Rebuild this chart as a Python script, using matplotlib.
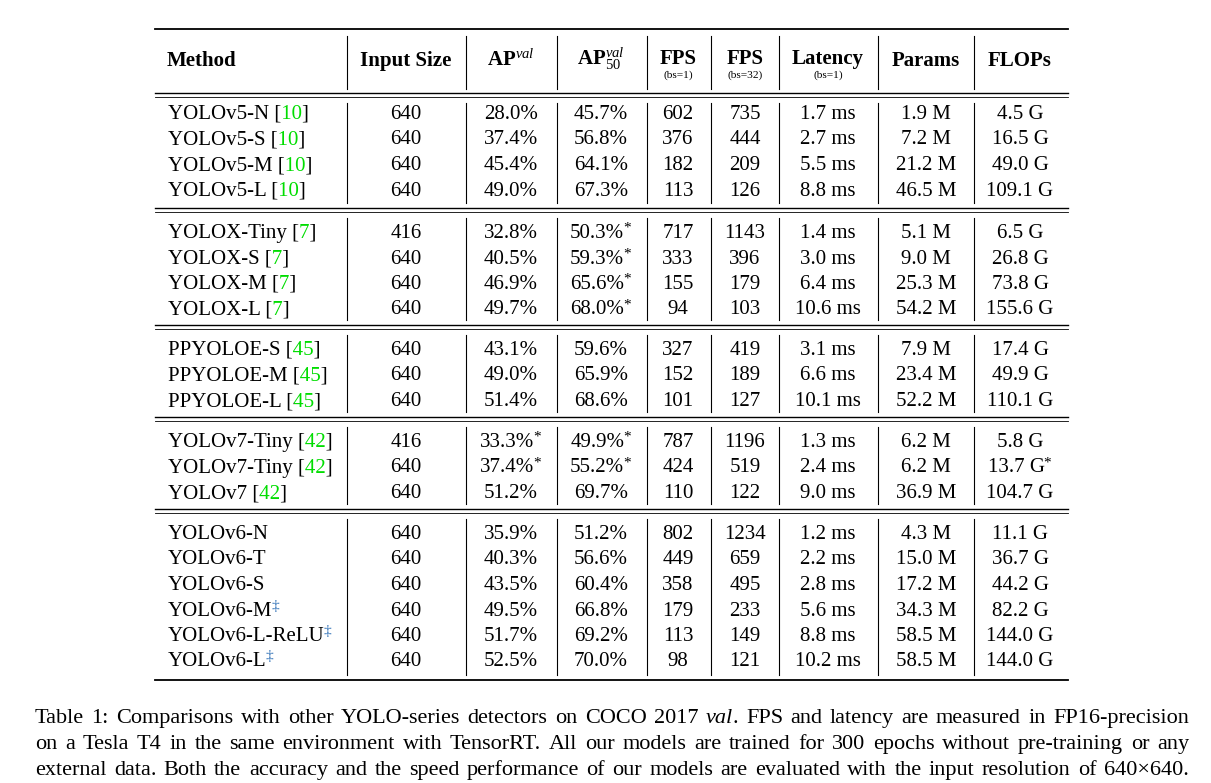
import matplotlib.pyplot as plt
import matplotlib as mpl
from matplotlib.patches import Rectangle

mpl.rcParams['font.family'] = ['Liberation Serif', 'DejaVu Serif']
mpl.rcParams['mathtext.fontset'] = 'custom'
mpl.rcParams['mathtext.rm'] = 'Liberation Serif'
mpl.rcParams['mathtext.it'] = 'Liberation Serif:italic'
mpl.rcParams['mathtext.bf'] = 'Liberation Serif:bold'

# ---- data ----
groups = [
    # (method, ref, mark)
    [('YOLOv5-N', '10', ''), ('YOLOv5-S', '10', ''), ('YOLOv5-M', '10', ''), ('YOLOv5-L', '10', '')],
    [('YOLOX-Tiny', '7', ''), ('YOLOX-S', '7', ''), ('YOLOX-M', '7', ''), ('YOLOX-L', '7', '')],
    [('PPYOLOE-S', '45', ''), ('PPYOLOE-M', '45', ''), ('PPYOLOE-L', '45', '')],
    [('YOLOv7-Tiny', '42', ''), ('YOLOv7-Tiny', '42', ''), ('YOLOv7', '42', '')],
    [('YOLOv6-N', '', ''), ('YOLOv6-T', '', ''), ('YOLOv6-S', '', ''), ('YOLOv6-M', '', '‡'),
     ('YOLOv6-L-ReLU', '', '‡'), ('YOLOv6-L', '', '‡')],
]
input_size = ['640', '640', '640', '640', '416', '640', '640', '640', '640', '640', '640',
              '416', '640', '640', '640', '640', '640', '640', '640', '640']
ap = ['28.0%', '37.4%', '45.4%', '49.0%', '32.8%', '40.5%', '46.9%', '49.7%',
      '43.1%', '49.0%', '51.4%', '33.3%*', '37.4%*', '51.2%',
      '35.9%', '40.3%', '43.5%', '49.5%', '51.7%', '52.5%']
ap50 = ['45.7%', '56.8%', '64.1%', '67.3%', '50.3%*', '59.3%*', '65.6%*', '68.0%*',
        '59.6%', '65.9%', '68.6%', '49.9%*', '55.2%*', '69.7%',
        '51.2%', '56.6%', '60.4%', '66.8%', '69.2%', '70.0%']
fps1 = ['602', '376', '182', '113', '717', '333', '155', '94', '327', '152', '101',
        '787', '424', '110', '802', '449', '358', '179', '113', '98']
fps32 = ['735', '444', '209', '126', '1143', '396', '179', '103', '419', '189', '127',
         '1196', '519', '122', '1234', '659', '495', '233', '149', '121']
latency = ['1.7 ms', '2.7 ms', '5.5 ms', '8.8 ms', '1.4 ms', '3.0 ms', '6.4 ms', '10.6 ms',
           '3.1 ms', '6.6 ms', '10.1 ms', '1.3 ms', '2.4 ms', '9.0 ms',
           '1.2 ms', '2.2 ms', '2.8 ms', '5.6 ms', '8.8 ms', '10.2 ms']
params = ['1.9 M', '7.2 M', '21.2 M', '46.5 M', '5.1 M', '9.0 M', '25.3 M', '54.2 M',
          '7.9 M', '23.4 M', '52.2 M', '6.2 M', '6.2 M', '36.9 M',
          '4.3 M', '15.0 M', '17.2 M', '34.3 M', '58.5 M', '58.5 M']
flops = ['4.5 G', '16.5 G', '49.0 G', '109.1 G', '6.5 G', '26.8 G', '73.8 G', '155.6 G',
         '17.4 G', '49.9 G', '110.1 G', '5.8 G', '13.7 G*', '104.7 G',
         '11.1 G', '36.7 G', '44.2 G', '82.2 G', '144.0 G', '144.0 G']

caption_lines = [
    'Table 1: Comparisons with other YOLO-series detectors on COCO 2017 _val_. FPS and latency are measured in FP16-precision',
    'on a Tesla T4 in the same environment with TensorRT. All our models are trained for 300 epochs without pre-training or any',
    'external data. Both the accuracy and the speed performance of our models are evaluated with the input resolution of 640\u00d7640.',
]

# ---- layout (pixel coords) ----
W, H = 1211, 783
fig = plt.figure(figsize=(W / 100, H / 100), dpi=100)
ax = fig.add_axes([0, 0, 1, 1])
ax.set_xlim(0, W)
ax.set_ylim(H, 0)
ax.axis('off')
renderer = fig.canvas.get_renderer()

FS = 15
GREEN = '#00dd00'
BLUE = '#2a6db5'
x_left, x_right = 155, 1068
vlines = [347, 466, 557, 647, 711, 779, 878, 974]
col_centers = [406, 511, 601, 678, 745, 828, 926, 1020]
row_step = 25.5
group_tops = [112, 231, 348, 440, 532]


def text_right(x, y, s, **kw):
    t = ax.text(x, y, s, ha='left', va='baseline', **kw)
    r = t.get_window_extent(renderer).x1
    t.remove()
    return r


def with_sup(x, y, base, sup, color='black', ha='center'):
    t = ax.text(x, y, base, ha=ha, va='baseline', fontsize=FS)
    r = t.get_window_extent(renderer).x1
    s = ax.text(r - 1, y - 6, sup, ha='left', va='baseline', fontsize=11, color=color)
    if ha == 'center':
        w = s.get_window_extent(renderer).width
        t.set_position((x - w / 2, y))
        s.set_position((r - 1 - w / 2, y - 6))


def cite(x, y, name, ref):
    full = name + ' [' + ref + ']'
    x1 = text_right(x, y, name + ' [', fontsize=FS)
    x2 = text_right(x, y, name + ' [' + ref, fontsize=FS)
    for a, b, c in [(0, x1 + 0.5, 'black'), (x1 + 0.5, x2 + 0.5, GREEN), (x2 + 0.5, W, 'black')]:
        t = ax.text(x, y, full, ha='left', va='baseline', fontsize=FS, color=c, clip_on=True)
        clip = Rectangle((a, 0), b - a, H, transform=ax.transData)
        t.set_clip_path(clip)


def cell(x, y, s):
    if s.endswith('*'):
        with_sup(x, y, s[:-1], '*')
    else:
        ax.text(x, y, s, ha='center', va='baseline', fontsize=FS)


# rules
ax.plot([x_left, x_right], [29, 29], color='black', lw=1.3)
ax.plot([x_left, x_right], [680, 680], color='black', lw=1.3)
double_rules = [94.5, 210, 327, 419, 511]
for yy in double_rules:
    ax.plot([x_left, x_right], [yy - 2, yy - 2], color='black', lw=1.0)
    ax.plot([x_left, x_right], [yy + 2, yy + 2], color='black', lw=0.6)

# vertical lines
v_spans = [(36, 89)]
for gi, g in enumerate(groups):
    top = double_rules[gi] + 8
    bot = (double_rules[gi + 1] - 7) if gi + 1 < len(groups) else 675
    v_spans.append((top, bot))
for (a, b) in v_spans:
    for xv in vlines:
        ax.plot([xv, xv], [a, b], color='black', lw=0.8)

# header
hb = 66
ax.text(167, hb, 'Method', fontsize=FS, fontweight='bold', va='baseline', ha='left')
ax.text(406, hb, 'Input Size', fontsize=FS, fontweight='bold', va='baseline', ha='center')
ax.text(511, hb, r'$\mathbf{AP}^{val}$', fontsize=FS, va='baseline', ha='center')
ax.text(601, hb - 1, r'$\mathbf{AP}^{val}_{50}$', fontsize=FS, va='baseline', ha='center')
for xc, lab, sub in [(678, 'FPS', '(bs=1)'), (745, 'FPS', '(bs=32)'), (828, 'Latency', '(bs=1)')]:
    ax.text(xc, 64, lab, fontsize=FS, fontweight='bold', va='baseline', ha='center')
    ax.text(xc, 78, sub, fontsize=8.2, va='baseline', ha='center')
ax.text(926, hb, 'Params', fontsize=FS, fontweight='bold', va='baseline', ha='center')
ax.text(1020, hb, 'FLOPs', fontsize=FS, fontweight='bold', va='baseline', ha='center')

# body
k = 0
for gi, g in enumerate(groups):
    for ri, (name, ref, mark) in enumerate(g):
        yb = group_tops[gi] + ri * row_step + 7
        if ref:
            cite(168, yb, name, ref)
        elif mark:
            with_sup(168, yb, name, mark, color=BLUE, ha='left')
        else:
            ax.text(168, yb, name, fontsize=FS, va='baseline', ha='left')
        vals = [input_size[k], ap[k], ap50[k], fps1[k], fps32[k], latency[k], params[k], flops[k]]
        for xc, v in zip(col_centers, vals):
            cell(xc, yb, v)
        k += 1

# caption, justified between cx0 and cx1
cfs = 16.0
cx0, cx1 = 35, 1189
for li, line in enumerate(caption_lines):
    yb = 723 + li * 25.8
    words = line.split(' ')
    drawn = []
    for w in words:
        if '_' in w:
            _, it, rest = w.split('_')
            parts = [(it, 'italic'), (rest, 'normal')]
        else:
            parts = [(w, 'normal')]
        objs = []
        cx = 0
        for s, st in parts:
            t = ax.text(cx, yb, s, ha='left', va='baseline', fontsize=cfs, fontstyle=st)
            objs.append((t, cx))
            cx += t.get_window_extent(renderer).width
        drawn.append((objs, cx))
    total = sum(wd for _, wd in drawn)
    gap = (cx1 - cx0 - total) / (len(drawn) - 1)
    pos = cx0
    for objs, wd in drawn:
        for t, off in objs:
            t.set_position((pos + off, yb))
        pos += wd + gap

fig.savefig('out.png', dpi=100)
